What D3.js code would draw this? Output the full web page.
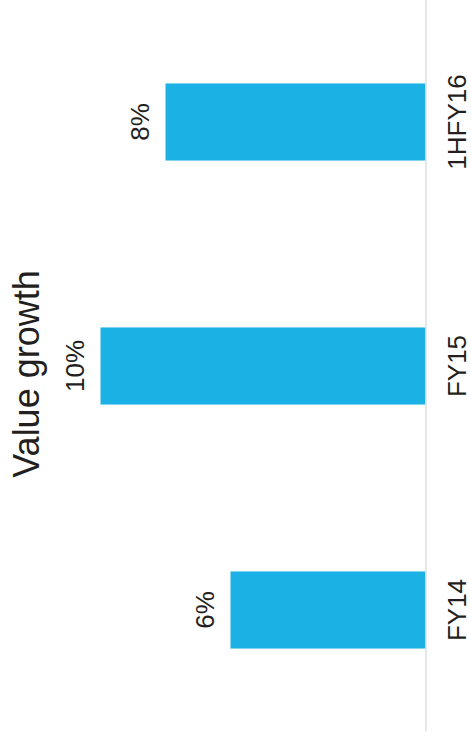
<!DOCTYPE html>
<html>
<head>
<meta charset="utf-8">
<script src="https://cdn.jsdelivr.net/npm/d3@7/dist/d3.min.js"></script>
<style>
  html, body { margin: 0; padding: 0; background: #fff; }
  svg { display: block; }
  text { font-family: Arial, "Liberation Sans", sans-serif; fill: #231f20; }
</style>
</head>
<body>
<script>
// Value growth by period
const categories = ["FY14", "FY15", "1HFY16"];
const values = [6, 10, 8];
const valueLabels = ["6%", "10%", "8%"];
const titleText = "Value growth";

const pageW = 471, pageH = 741;
// The chart is laid out upright (wide) and then turned a quarter turn.
const W = pageH, H = pageW;

const svg = d3.select("body").append("svg")
  .attr("width", pageW)
  .attr("height", pageH);

const g = svg.append("g")
  .attr("transform", `translate(0,${pageH}) rotate(-90)`);

const baseY = 425.5;

const x = d3.scaleBand()
  .domain(categories)
  .range([9, W])
  .paddingInner(0.684)
  .paddingOuter(0.342);

const y = d3.scaleLinear()
  .domain([0, 13])
  .range([baseY, baseY - 13 * 32.5]);

// Title
g.append("text")
  .attr("x", 367)
  .attr("y", 38.5)
  .attr("text-anchor", "middle")
  .style("font-size", "36px")
  .text(titleText);

// Bars
g.selectAll("rect.bar")
  .data(categories)
  .join("rect")
  .attr("class", "bar")
  .attr("x", d => x(d))
  .attr("width", x.bandwidth())
  .attr("y", (d, i) => y(values[i]))
  .attr("height", (d, i) => y(0) - y(values[i]))
  .attr("fill", "#1bb1e4");

// Value labels above the bars
g.selectAll("text.val")
  .data(categories)
  .join("text")
  .attr("class", "val")
  .attr("x", d => x(d) + x.bandwidth() / 2)
  .attr("y", (d, i) => y(values[i]) - 17)
  .attr("text-anchor", "middle")
  .style("font-size", "26px")
  .text((d, i) => valueLabels[i]);

// Category axis along the baseline
const axis = g.append("g")
  .attr("transform", `translate(0,${baseY})`)
  .call(d3.axisBottom(x).tickSize(0).tickSizeOuter(0).tickPadding(22));

axis.select(".domain")
  .attr("stroke", "#dcdcdc")
  .attr("stroke-width", 1.4);

axis.selectAll(".tick text")
  .style("font-size", "26px")
  .style("font-family", 'Arial, "Liberation Sans", sans-serif')
  .attr("fill", "#231f20");
</script>
</body>
</html>
